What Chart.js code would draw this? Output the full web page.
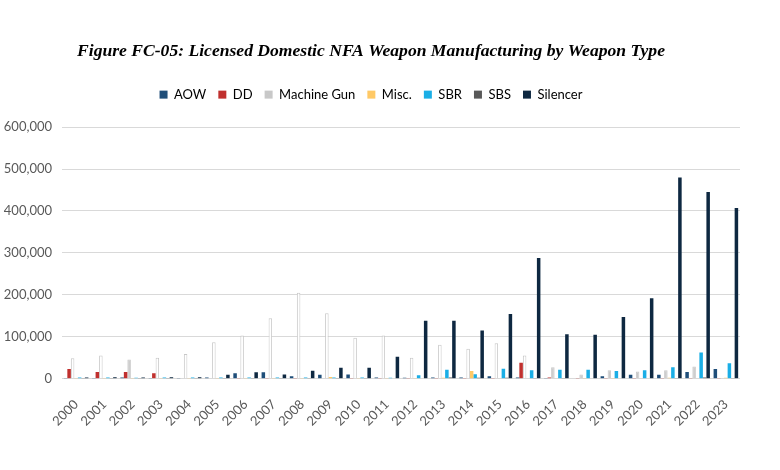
<!DOCTYPE html>
<html>
<head>
<meta charset="utf-8">
<script src="https://cdn.jsdelivr.net/npm/chart.js@4.4.1/dist/chart.umd.min.js"></script>
<style>
  html, body { margin: 0; padding: 0; background: #ffffff; }
  #wrap { width: 780px; height: 470px; }
</style>
</head>
<body>
<div id="wrap"><canvas id="c" width="780" height="470"></canvas></div>
<script>
const years = ['2000','2001','2002','2003','2004','2005','2006','2007','2008','2009','2010','2011','2012','2013','2014','2015','2016','2017','2018','2019','2020','2021','2022','2023'];
const seriesNames = ['AOW','DD','Machine Gun','Misc.','SBR','SBS','Silencer'];
const aow      = [1500,1500,3000,1500,1500,2500,13000,15500,6000,9000,10000,3000,2000,3000,3000,6000,2500,1500,1000,5700,9000,9000,16000,23000];
const dd       = [22800,16000,16000,13000,1000,1000,500,500,500,1000,500,500,500,500,500,1500,38000,3000,500,500,500,500,500,500];
const machineGun = [48800,55000,45500,49600,59000,87000,103000,144000,205000,156000,97500,103000,50000,81000,71500,84500,55000,27000,10000,20000,17000,20000,29000,1000];
const misc     = [500,500,500,500,500,500,500,500,500,4000,500,500,500,2000,18000,1000,1000,1000,500,500,1000,2000,1000,2000];
const sbr      = [2500,2500,2000,2500,2500,2500,2500,2500,2500,2500,2500,2000,8000,21000,10500,23600,20000,21000,21000,18000,20000,27000,62600,36600];
const sbs      = [1500,1500,1500,1500,1500,1500,1500,1500,1500,1500,1500,1000,1000,3000,2000,2000,1500,1500,1000,1000,1000,1500,3000,1500];
const silencer = [3000,3500,3000,3500,3500,9000,15500,10000,19000,26000,26000,52000,138000,138000,115000,154000,288000,105700,105000,147000,192000,480000,445000,407000];
const yTicks   = [0,100000,200000,300000,400000,500000,600000];

// style: years in which the Machine Gun bar is drawn filled (others are outlined)
const mgFilled = new Set(['2002','2017','2018','2019','2020','2021','2022','2023']);
const colors = ['#1f4e79','#c0302e','#c8c8c8','#ffc966','#1aaee6','#595959','#0e2841'];
const values = [aow, dd, machineGun, misc, sbr, sbs, silencer];

const datasets = seriesNames.map((name, i) => {
  const ds = {
    label: name,
    data: values[i],
    backgroundColor: colors[i],
    borderWidth: 0,
    categoryPercentage: 0.87,
    barPercentage: 1.0
  };
  if (name === 'Machine Gun') {
    ds.backgroundColor = years.map(y => mgFilled.has(y) ? '#c8c8c8' : '#ffffff');
    ds.borderColor = '#c8c8c8';
    ds.borderWidth = 1;
  }
  return ds;
});

const legendSpacer = {
  id: 'legendSpacer',
  beforeInit(chart) {
    const origFit = chart.legend.fit;
    chart.legend.fit = function () {
      origFit.bind(chart.legend)();
      this.height += 16;
    };
  }
};

new Chart(document.getElementById('c'), {
  type: 'bar',
  data: { labels: years, datasets },
  plugins: [legendSpacer],
  options: {
    responsive: false,
    animation: false,
    layout: { padding: { left: 2, right: 40, top: 31, bottom: 31 } },
    plugins: {
      title: {
        display: true,
        text: 'Figure FC-05: Licensed Domestic NFA Weapon Manufacturing by Weapon Type',
        font: { family: '"Liberation Serif", "DejaVu Serif", serif', size: 17.6, weight: 'bold', style: 'italic' },
        color: '#000000',
        padding: { top: 10, bottom: 14 }
      },
      legend: {
        display: true,
        position: 'top',
        labels: {
          boxWidth: 8, boxHeight: 8,
          color: '#595959',
          font: { family: 'Lato, "Open Sans", sans-serif', size: 13 },
          padding: 12,
          generateLabels: (chart) => chart.data.datasets.map((d, i) => ({
            text: d.label, fillStyle: colors[i], strokeStyle: colors[i], lineWidth: 0,
            hidden: false, datasetIndex: i
          }))
        }
      },
      tooltip: { enabled: false }
    },
    scales: {
      x: {
        grid: { display: false },
        border: { display: false },
        ticks: {
          minRotation: 45, maxRotation: 45,
          padding: 10,
          color: '#595959',
          font: { family: 'Lato, "Open Sans", sans-serif', size: 13 }
        }
      },
      y: {
        min: 0, max: 600000,
        afterBuildTicks: (axis) => { axis.ticks = yTicks.map(v => ({ value: v })); },
        afterFit: (axis) => { axis.width = 60; },
        grid: { color: '#d9d9d9', lineWidth: 1, drawTicks: false },
        border: { display: false },
        ticks: {
          color: '#595959',
          padding: 10,
          font: { family: 'Lato, "Open Sans", sans-serif', size: 13 },
          callback: (v) => v.toLocaleString('en-US')
        }
      }
    }
  }
});
</script>
</body>
</html>
